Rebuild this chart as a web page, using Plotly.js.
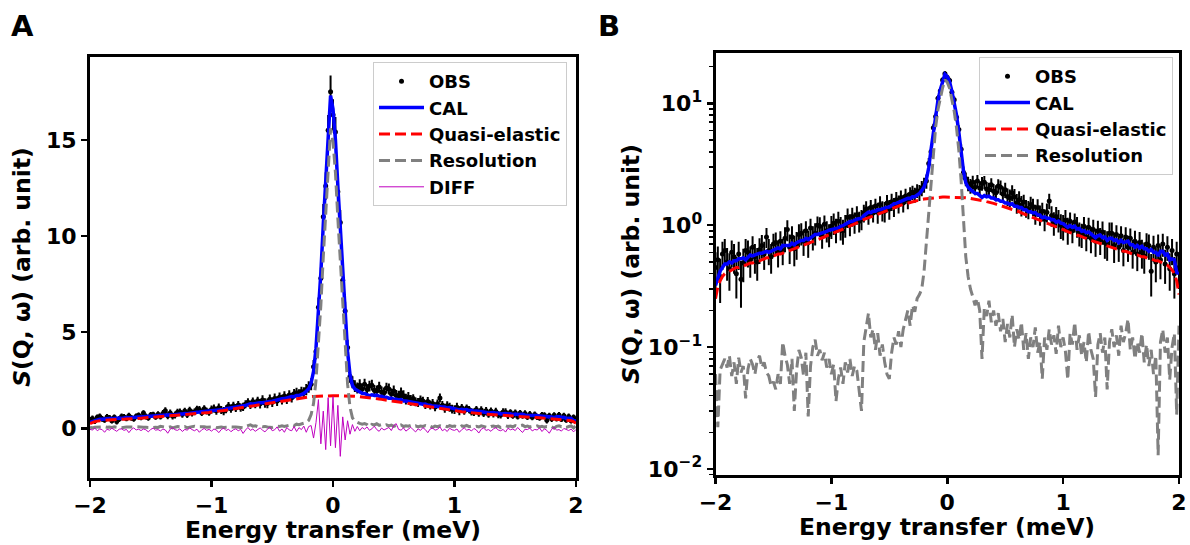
<!DOCTYPE html>
<html><head><meta charset="utf-8">
<script src="https://cdn.plot.ly/plotly-3.0.1.min.js"></script>
<style>html,body{margin:0;padding:0;background:#fff}#chart{width:1190px;height:545px}</style>
</head><body><div id="chart"></div>
<script>
// Energy transfer grid (meV)
const energy = [
-2,-1.98,-1.96,-1.94,-1.92,-1.9,-1.88,-1.86,-1.84,-1.82,
-1.8,-1.78,-1.76,-1.74,-1.72,-1.7,-1.68,-1.66,-1.64,-1.62,
-1.6,-1.58,-1.56,-1.54,-1.52,-1.5,-1.48,-1.46,-1.44,-1.42,
-1.4,-1.38,-1.36,-1.34,-1.32,-1.3,-1.28,-1.26,-1.24,-1.22,
-1.2,-1.18,-1.16,-1.14,-1.12,-1.1,-1.08,-1.06,-1.04,-1.02,
-1,-0.98,-0.96,-0.94,-0.92,-0.9,-0.88,-0.86,-0.84,-0.82,
-0.8,-0.78,-0.76,-0.74,-0.72,-0.7,-0.68,-0.66,-0.64,-0.62,
-0.6,-0.58,-0.56,-0.54,-0.52,-0.5,-0.48,-0.46,-0.44,-0.42,
-0.4,-0.38,-0.36,-0.34,-0.32,-0.3,-0.28,-0.26,-0.24,-0.22,
-0.2,-0.18,-0.16,-0.14,-0.12,-0.1,-0.08,-0.06,-0.04,-0.02,
0,
0.02,0.04,0.06,0.08,0.1,0.12,0.14,0.16,0.18,0.2,
0.22,0.24,0.26,0.28,0.3,0.32,0.34,0.36,0.38,0.4,
0.42,0.44,0.46,0.48,0.5,0.52,0.54,0.56,0.58,0.6,
0.62,0.64,0.66,0.68,0.7,0.72,0.74,0.76,0.78,0.8,
0.82,0.84,0.86,0.88,0.9,0.92,0.94,0.96,0.98,1,
1.02,1.04,1.06,1.08,1.1,1.12,1.14,1.16,1.18,1.2,
1.22,1.24,1.26,1.28,1.3,1.32,1.34,1.36,1.38,1.4,
1.42,1.44,1.46,1.48,1.5,1.52,1.54,1.56,1.58,1.6,
1.62,1.64,1.66,1.68,1.7,1.72,1.74,1.76,1.78,1.8,
1.82,1.84,1.86,1.88,1.9,1.92,1.94,1.96,1.98,2
];

// Observed S(Q,w)
const obs = [
0.45,0.52,0.38,0.58,0.62,0.50,0.44,0.60,0.55,0.40,
0.58,0.36,0.49,0.62,0.60,0.52,0.66,0.55,0.50,0.63,
0.68,0.58,0.80,0.62,0.55,0.70,0.72,0.60,0.74,0.62,
0.78,0.92,0.66,0.80,0.64,0.70,0.84,0.86,0.74,0.90,
0.72,0.95,0.80,0.86,1.00,0.98,0.82,1.02,0.90,0.84,
0.98,1.04,0.92,1.08,0.96,0.90,1.00,1.16,1.02,1.18,
1.06,1.22,1.08,1.12,1.26,1.36,1.22,1.40,1.26,1.44,
1.28,1.48,1.32,1.30,1.52,1.36,1.56,1.42,1.62,1.50,
1.68,1.52,1.74,1.60,1.80,1.86,1.78,1.92,
1.86,2.02,2.15,2.30,3.2,4.0,6.3,7.8,11.0,12.6,15.5,17.5,16.3,15.4,12.3,10.7,7.7,6.1,4.2,2.7,2.4,2.2,2.1,2.25,2.05,
2.30,2.02,2.20,2.25,1.98,1.95,2.15,1.90,1.85,2.10,
2.05,1.80,1.95,1.72,1.68,1.85,1.70,1.52,1.62,1.46,
1.55,1.38,1.35,1.48,1.42,1.24,1.40,1.22,1.30,1.12,
1.28,1.58,1.20,1.05,1.18,1.10,1.00,0.98,1.10,0.92,
1.08,0.90,1.06,0.98,0.86,0.84,0.98,0.80,0.96,0.78,
0.92,0.74,0.90,0.76,0.88,0.72,0.70,0.86,0.86,0.68,
0.84,0.66,0.82,0.62,0.80,0.66,0.78,0.60,0.74,0.58,
0.72,0.60,0.56,0.70,0.68,0.42,0.66,0.50,0.68,0.52,
0.70,0.48,0.66,0.44,0.62,0.40,0.58,0.45
];

// Error bars of observed points
const obsErr = [
0.15,0.15,0.15,0.15,0.15,0.15,0.15,0.15,0.15,0.15,
0.15,0.15,0.15,0.15,0.15,0.15,0.15,0.15,0.15,0.15,
0.15,0.15,0.15,0.15,0.15,0.15,0.15,0.15,0.15,0.15,
0.18,0.18,0.18,0.18,0.18,0.18,0.18,0.18,0.18,0.18,
0.18,0.18,0.18,0.18,0.18,0.18,0.18,0.18,0.18,0.18,
0.21,0.21,0.21,0.21,0.21,0.21,0.21,0.21,0.21,0.21,
0.21,0.21,0.21,0.21,0.21,0.21,0.21,0.21,0.21,0.21,
0.25,0.25,0.25,0.25,0.25,0.25,0.25,0.25,0.25,0.25,
0.25,0.25,0.25,0.25,0.25,0.25,0.25,0.25,
0.28,0.29,0.30,0.31,0.36,0.40,0.50,0.56,0.66,0.71,0.79,0.84,0.81,0.78,0.70,0.65,0.56,0.49,0.41,0.33,0.31,0.30,0.29,0.30,0.29,
0.28,0.28,0.28,0.28,0.28,0.28,0.28,0.28,0.28,0.28,
0.28,0.28,0.28,0.28,0.28,0.28,0.28,0.28,0.28,0.28,
0.23,0.23,0.23,0.23,0.23,0.23,0.23,0.23,0.23,0.23,
0.23,0.23,0.23,0.23,0.23,0.23,0.23,0.23,0.23,0.23,
0.19,0.19,0.19,0.19,0.19,0.19,0.19,0.19,0.19,0.19,
0.19,0.19,0.19,0.19,0.19,0.19,0.19,0.19,0.19,0.19,
0.16,0.16,0.16,0.16,0.16,0.16,0.16,0.16,0.16,0.16,
0.16,0.16,0.16,0.16,0.16,0.16,0.16,0.16,0.16,0.16,
0.15,0.15,0.15,0.15,0.15,0.15,0.15,0.15
];

// Fitted total (CAL)
const cal = [
0.32,0.36,0.42,0.45,0.48,0.48,0.50,0.49,0.51,0.51,
0.53,0.53,0.54,0.52,0.55,0.57,0.56,0.57,0.58,0.59,
0.59,0.60,0.61,0.60,0.61,0.62,0.63,0.65,0.64,0.68,
0.68,0.68,0.68,0.71,0.69,0.72,0.74,0.75,0.75,0.78,
0.76,0.79,0.82,0.84,0.84,0.85,0.86,0.88,0.89,0.91,
0.92,0.93,0.93,0.95,0.98,0.99,1.02,1.04,1.07,1.07,
1.10,1.12,1.13,1.14,1.20,1.24,1.28,1.27,1.30,1.30,
1.34,1.34,1.37,1.38,1.40,1.41,1.45,1.50,1.51,1.54,
1.55,1.59,1.62,1.66,1.65,1.71,1.71,1.76,
1.82,1.93,2.06,2.37,2.96,4.17,5.88,8.09,10.6,12.9,15.1,17.3,16.6,15.0,12.6,10.3,8.0,5.8,3.99,2.79,2.23,2.05,1.96,1.91,1.83,
1.82,1.77,1.69,1.75,1.71,1.73,1.67,1.67,1.62,1.62,
1.57,1.57,1.52,1.52,1.48,1.50,1.43,1.43,1.40,1.40,
1.34,1.34,1.29,1.29,1.26,1.27,1.21,1.21,1.15,1.17,
1.14,1.14,1.11,1.11,1.06,1.08,1.04,1.03,1.00,0.96,
0.99,0.96,0.98,0.93,0.94,0.89,0.90,0.87,0.88,0.85,
0.83,0.79,0.82,0.83,0.79,0.80,0.75,0.78,0.78,0.75,
0.76,0.72,0.75,0.72,0.73,0.74,0.69,0.69,0.66,0.68,
0.65,0.67,0.64,0.64,0.61,0.63,0.60,0.60,0.56,0.61,
0.61,0.57,0.58,0.52,0.53,0.52,0.41,0.40
];

// Quasi-elastic component
const quasiElastic = [
0.25,0.31,0.35,0.38,0.40,0.41,0.42,0.43,0.44,0.45,
0.45,0.46,0.47,0.47,0.48,0.49,0.49,0.50,0.51,0.51,
0.52,0.53,0.54,0.54,0.55,0.56,0.57,0.58,0.58,0.59,
0.60,0.61,0.62,0.63,0.64,0.65,0.66,0.67,0.69,0.70,
0.71,0.72,0.73,0.75,0.76,0.77,0.79,0.80,0.82,0.83,
0.85,0.86,0.88,0.89,0.91,0.93,0.95,0.97,0.99,1.01,
1.03,1.05,1.07,1.09,1.11,1.13,1.15,1.17,1.19,1.22,
1.24,1.26,1.28,1.31,1.33,1.35,1.37,1.40,1.42,1.44,
1.46,1.48,1.50,1.52,1.54,1.56,1.58,1.60,
1.61,1.63,1.64,1.65,1.66,1.67,1.68,1.69,1.69,1.70,1.70,1.70,1.70,1.70,1.70,1.70,1.70,1.70,1.69,1.69,1.68,1.67,1.66,1.65,1.64,
1.63,1.61,1.60,1.58,1.56,1.55,1.53,1.51,1.49,1.47,
1.45,1.43,1.41,1.39,1.37,1.35,1.33,1.31,1.29,1.26,
1.24,1.22,1.20,1.18,1.16,1.14,1.12,1.10,1.08,1.06,
1.04,1.02,1.01,0.99,0.97,0.95,0.94,0.92,0.90,0.89,
0.87,0.86,0.84,0.83,0.82,0.80,0.79,0.78,0.76,0.75,
0.74,0.73,0.72,0.71,0.70,0.69,0.68,0.67,0.66,0.65,
0.64,0.63,0.62,0.61,0.61,0.60,0.59,0.58,0.57,0.57,
0.56,0.55,0.55,0.54,0.53,0.53,0.52,0.51,0.51,0.50,
0.49,0.48,0.47,0.45,0.43,0.40,0.35,0.27
];

// Resolution (elastic) component
const resolution = [
0.060,0.022,0.065,0.072,0.080,0.068,0.085,0.058,0.075,0.050,
0.082,0.062,0.070,0.038,0.066,0.080,0.072,0.060,0.078,0.085,
0.068,0.075,0.062,0.058,0.048,0.052,0.045,0.060,0.050,0.110,
0.085,0.072,0.050,0.080,0.030,0.065,0.095,0.082,0.058,0.090,
0.027,0.070,0.100,0.115,0.085,0.095,0.078,0.090,0.068,0.080,
0.060,0.072,0.036,0.055,0.068,0.050,0.075,0.062,0.080,0.058,
0.070,0.064,0.045,0.030,0.110,0.150,0.190,0.120,0.140,0.095,
0.130,0.085,0.105,0.075,0.060,0.055,0.090,0.120,0.105,0.135,
0.100,0.140,0.165,0.200,0.150,0.220,0.195,0.250,
0.27,0.30,0.42,0.72,1.3,2.5,4.2,6.4,8.9,11.2,13.4,15.6,14.9,13.3,10.9,8.6,6.3,4.1,2.3,1.1,0.55,0.38,0.30,0.26,0.22,
0.250,0.200,0.080,0.210,0.180,0.240,0.160,0.200,0.150,0.190,
0.135,0.170,0.110,0.155,0.120,0.185,0.100,0.140,0.115,0.160,
0.095,0.130,0.080,0.120,0.100,0.145,0.090,0.110,0.055,0.120,
0.095,0.140,0.105,0.125,0.088,0.150,0.100,0.120,0.092,0.054,
0.130,0.105,0.160,0.095,0.125,0.085,0.110,0.075,0.135,0.095,
0.080,0.039,0.105,0.130,0.090,0.120,0.045,0.110,0.140,0.100,
0.125,0.085,0.150,0.110,0.130,0.170,0.095,0.120,0.080,0.110,
0.090,0.130,0.075,0.105,0.070,0.095,0.060,0.085,0.013,0.110,
0.140,0.090,0.120,0.054,0.100,0.130,0.028,0.150
];

// Residual (DIFF)
const diff = [
-0.05,-0.08,0.02,-0.12,-0.03,-0.06,-0.20,-0.04,-0.09,0.01,
-0.07,-0.15,-0.04,-0.02,-0.10,-0.05,-0.22,-0.06,0.03,-0.08,
-0.04,-0.11,-0.03,-0.07,-0.18,-0.05,0.02,-0.09,-0.06,-0.13,
-0.03,-0.08,-0.25,-0.04,0.04,-0.07,-0.10,-0.02,-0.16,-0.05,
-0.09,0.03,-0.06,-0.12,-0.04,-0.20,-0.07,0.00,-0.10,-0.05,
-0.14,-0.03,-0.08,-0.22,-0.06,0.02,-0.11,-0.04,-0.17,-0.07,
-0.02,-0.12,-0.05,-0.26,-0.08,0.05,-0.10,-0.03,-0.15,-0.06,
0.03,-0.09,-0.18,-0.04,0.06,-0.12,-0.07,0.08,-0.14,-0.03,
-0.20,0.05,-0.08,-0.12,0.10,-0.16,0.04,-0.06,
0.12,-0.20,0.10,0.15,-0.5,0.3,1.5,-0.8,0.9,-1.1,1.6,-0.9,1.65,-1.0,1.2,-1.45,0.6,-0.6,0.4,-0.3,0.2,-0.15,0.10,-0.12,0.05,
-0.04,0.08,-0.10,-0.02,0.12,-0.06,-0.15,0.02,-0.08,-0.03,
0.05,-0.11,0.15,0.25,-0.05,-0.09,0.03,-0.14,-0.04,0.06,
-0.07,-0.18,-0.02,-0.10,0.04,-0.06,-0.22,-0.03,0.02,-0.09,
-0.05,0.08,-0.12,-0.04,-0.16,0.01,-0.07,-0.10,-0.03,-0.20,
-0.06,0.03,-0.09,-0.05,-0.13,0.00,-0.08,-0.24,-0.04,0.02,
-0.10,-0.06,-0.15,-0.02,0.04,-0.08,-0.12,-0.05,-0.19,0.01,
-0.07,-0.03,-0.11,0.05,-0.09,-0.21,-0.04,-0.06,0.02,-0.13,
-0.05,-0.08,0.03,-0.16,-0.02,-0.10,-0.25,-0.04,0.06,-0.09,
-0.06,-0.14,0.00,-0.07,-0.11,-0.03,-0.18,-0.05
];

const seriesNames = ['OBS','CAL','Quasi-elastic','Resolution','DIFF'];
const xTickVals = [-2,-1,0,1,2];
const yTickValsA = [0,5,10,15];
const yTickValsB = [0.01,0.1,1,10];
const yTickTextB = ['10<sup>−2</sup>','10<sup>−1</sup>','10<sup>0</sup>','10<sup>1</sup>'];
const xTitle = 'Energy transfer (meV)';
const yTitle = '<i>S</i>(Q, ω) (arb. unit)';

[obs,obsErr,cal,quasiElastic,resolution,diff].forEach((a,i)=>{
  if(a.length!==energy.length) throw new Error('length mismatch in series '+i+': '+a.length+' vs '+energy.length);
});

const FONT = 'DejaVu Sans, Arial, sans-serif';
const dashPat = '11px,5px';

function obsTrace(xa, ya, leg){
  return {x:energy, y:obs, type:'scatter', mode:'markers', name:seriesNames[0],
    xaxis:xa, yaxis:ya, legend:leg, legendgroup:leg+'obs',
    marker:{color:'#000', size:5},
    error_y:{type:'data', array:obsErr, visible:true, color:'#000', thickness:2, width:0}};
}
function lineTrace(y, name, color, width, dash, xa, ya, leg){
  return {x:energy, y:y, type:'scatter', mode:'lines', name:name,
    xaxis:xa, yaxis:ya, legend:leg, legendgroup:leg+name,
    line:{color:color, width:width, dash:dash}};
}

const traces = [
  obsTrace('x','y','legend'),
  lineTrace(cal, seriesNames[1], '#0000ff', 3.5, 'solid', 'x','y','legend'),
  lineTrace(quasiElastic, seriesNames[2], '#ff0000', 3, dashPat, 'x','y','legend'),
  lineTrace(resolution, seriesNames[3], '#808080', 3, dashPat, 'x','y','legend'),
  lineTrace(diff, seriesNames[4], '#bf00bf', 1, 'solid', 'x','y','legend'),
  obsTrace('x2','y2','legend2'),
  lineTrace(cal, seriesNames[1], '#0000ff', 3.5, 'solid', 'x2','y2','legend2'),
  lineTrace(quasiElastic, seriesNames[2], '#ff0000', 3, dashPat, 'x2','y2','legend2'),
  lineTrace(resolution, seriesNames[3], '#808080', 3, dashPat, 'x2','y2','legend2')
];

const tickFont = {family:FONT, size:22, color:'#000', weight:'bold'};
const titleFont = {family:FONT, size:23.5, color:'#000', weight:'bold'};
const axisCommon = {showline:true, linecolor:'#000', linewidth:3, mirror:true,
  ticks:'outside', ticklen:6, tickwidth:2.5, tickcolor:'#000',
  showgrid:false, zeroline:false, tickfont:tickFont};
const legendFont = {family:FONT, size:18, color:'#000', weight:'bold'};

const W = 1190, H = 545;
const layout = {
  width:W, height:H, margin:{l:0,r:0,t:0,b:0}, paper_bgcolor:'#fff', plot_bgcolor:'#fff',
  showlegend:true,
  xaxis: Object.assign({}, axisCommon, {domain:[90/W, 576/W], range:[-2,2], tickvals:xTickVals, anchor:'y'}),
  yaxis: Object.assign({}, axisCommon, {domain:[1-477.5/H, 1-56.5/H], range:[-2.55,19.33], tickvals:yTickValsA, anchor:'x',
    title:{text:yTitle, font:titleFont, standoff:9}}),
  xaxis2: Object.assign({}, axisCommon, {domain:[715.5/W, 1179/W], range:[-2,2], tickvals:xTickVals, anchor:'y2'}),
  yaxis2: Object.assign({}, axisCommon, {domain:[1-475/H, 1-52.7/H], type:'log', range:[-2.049,1.415], anchor:'x2',
    tickvals:yTickValsB, ticktext:yTickTextB,
    minor:{ticks:'outside', ticklen:4, tickwidth:1.5, tickcolor:'#000', dtick:'D1', showgrid:false},
    title:{text:yTitle, font:titleFont, standoff:2}}),
  legend: {x:373/W, y:1-62/H, xanchor:'left', yanchor:'top', bgcolor:'rgba(255,255,255,0.9)',
    bordercolor:'#cccccc', borderwidth:1, font:legendFont,
    itemwidth:45, tracegroupgap:0, traceorder:'grouped'},
  legend2: {x:979/W, y:1-57/H, xanchor:'left', yanchor:'top', bgcolor:'rgba(255,255,255,0.9)',
    bordercolor:'#cccccc', borderwidth:1, font:legendFont,
    itemwidth:45, tracegroupgap:0, traceorder:'grouped'},
  annotations: [
    {text:'A', xref:'paper', yref:'paper', x:22/W, y:1-26/H, xanchor:'center', yanchor:'middle', showarrow:false,
      font:{family:FONT, size:29, color:'#000', weight:'bold'}},
    {text:'B', xref:'paper', yref:'paper', x:609/W, y:1-26/H, xanchor:'center', yanchor:'middle', showarrow:false,
      font:{family:FONT, size:29, color:'#000', weight:'bold'}},
    {text:xTitle, xref:'paper', yref:'paper', x:333/W, y:1-530/H, xanchor:'center', yanchor:'middle', showarrow:false,
      font:titleFont},
    {text:xTitle, xref:'paper', yref:'paper', x:947/W, y:1-527/H, xanchor:'center', yanchor:'middle', showarrow:false,
      font:titleFont}
  ]
};

Plotly.newPlot('chart', traces, layout, {staticPlot:true, displayModeBar:false});
</script>
</body></html>
